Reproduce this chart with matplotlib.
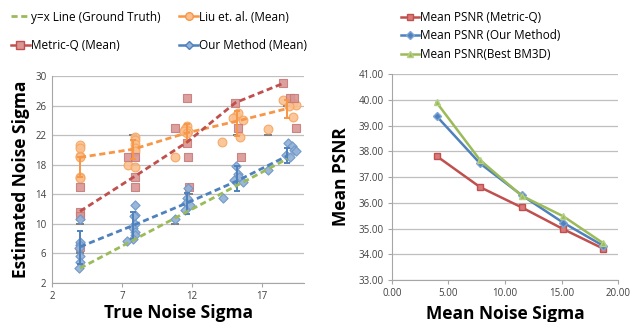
import matplotlib
matplotlib.use("Agg")
import matplotlib.pyplot as plt
from matplotlib.lines import Line2D

plt.rcParams.update({"font.family": ["Open Sans", "DejaVu Sans"], "font.size": 7})

# ---- left panel data: per-image estimates and group means ----
true_sigma = [4.0, 7.8, 11.6, 15.2, 18.8]

liu_x = [4.0, 4.0, 4.0, 4.0, 4.0, 4.0,
         7.9, 7.9, 7.9, 7.9, 7.9, 7.45, 7.9,
         11.6, 11.5, 11.7, 11.4, 11.6, 10.8, 14.1,
         15.1, 15.3, 15.6, 14.9, 15.4, 17.45,
         18.5, 19.2, 19.4, 19.2, 18.9]
liu_y = [20.7, 20.2, 19.2, 19.0, 16.4, 16.2,
         21.8, 21.3, 20.8, 20.3, 19.9, 17.9, 17.7,
         23.2, 22.8, 22.6, 22.5, 22.3, 19.0, 21.1,
         24.6, 25.0, 24.0, 24.3, 21.7, 22.8,
         26.7, 26.4, 26.1, 24.4, 26.0]

mq_x = [4.0, 4.0, 4.0, 4.0,
        7.4, 7.9, 7.9, 7.9,
        11.6, 10.8, 11.6, 11.7, 11.8,
        15.05, 15.3, 15.5,
        18.5, 19.0, 19.3, 19.4]
mq_y = [15.0, 11.6, 11.0, 6.9,
        19.0, 19.0, 16.3, 15.0,
        27.0, 23.0, 20.9, 19.0, 15.0,
        26.3, 23.0, 19.0,
        29.0, 27.0, 27.0, 22.9]

our_x = [4.0, 4.0, 4.0, 3.95, 4.0, 4.0, 3.9,
         7.9, 7.9, 7.85, 7.95, 7.8, 7.9, 7.95, 7.75, 7.35,
         11.7, 11.65, 11.55, 11.85, 11.5, 10.8, 14.2,
         15.1, 15.3, 15.35, 15.0, 15.6,
         18.85, 19.1, 19.3, 18.7, 19.0, 19.4, 17.45]
our_y = [10.6, 7.6, 7.1, 6.7, 5.65, 4.9, 4.0,
         12.6, 11.2, 11.0, 10.0, 9.4, 8.9, 8.5, 8.0, 7.7,
         14.8, 13.5, 12.8, 12.6, 11.9, 10.6, 13.5,
         17.8, 16.7, 16.4, 15.9, 15.7,
         20.9, 20.5, 20.0, 19.3, 19.1, 19.8, 17.3]

liu_mean = [19.0, 20.1, 22.3, 23.9, 25.6]
liu_err_lo = [2.6, 1.3, 1.2, 2.0, 1.3]
liu_err_hi = [0.0, 1.3, 1.2, 1.3, 1.2]
mq_mean_x = [4.0, 7.8, 11.6, 15.1, 18.5]
mq_mean = [11.7, 16.3, 21.0, 26.4, 29.0]
our_mean = [6.9, 9.8, 12.8, 15.8, 19.2]
our_err_lo = [2.3, 1.8, 1.4, 1.3, 1.0]
our_err_hi = [2.1, 1.8, 1.4, 2.0, 1.0]

tick_x = [7.8, 11.6, 15.2, 17.45, 18.8, 7.9, 11.8, 10.8, 4.0, 4.0]
tick_y = [22, 22, 22, 22, 26, 18, 14, 10, 10, 6]

# ---- right panel data ----
psnr_sigma = [3.95, 7.8, 11.5, 15.15, 18.7]
psnr_mq = [37.82, 36.61, 35.82, 34.98, 34.22]
psnr_ours = [39.37, 37.53, 36.29, 35.23, 34.33]
psnr_bm3d = [39.90, 37.66, 36.27, 35.48, 34.43]

RED, BLUE, GREEN, ORANGE = "#C0504D", "#4F81BD", "#9BBB59", "#F79646"
GRID = "#BFBFBF"
dash = (0, (2.2, 1.3))

fig = plt.figure(figsize=(6.32, 3.22), dpi=100)

# ================= left panel =================
ax = fig.add_axes([0.0823, 0.121, 0.399, 0.643])
ax.set_xlim(2, 20); ax.set_ylim(2, 30)
ax.set_xticks([2, 7, 12, 17]); ax.set_yticks(range(2, 31, 4))
ax.grid(axis="y", color=GRID, lw=0.9)
ax.set_axisbelow(True)

ax.scatter(tick_x, tick_y, marker="_", s=40, color="#7F7F7F", lw=1.4, zorder=2)
ax.scatter(liu_x, liu_y, marker="o", s=40, facecolor="#FAC090", edgecolor="#F6A55E",
           lw=0.8, alpha=0.9, zorder=3)
ax.scatter(mq_x, mq_y, marker="s", s=40, facecolor="#D99694", edgecolor="#C97C7A",
           lw=0.8, alpha=0.9, zorder=3)
ax.scatter(our_x, our_y, marker="D", s=22, facecolor="#95B3D7", edgecolor="#6F97C9",
           lw=0.8, alpha=0.95, zorder=4)

ax.errorbar(true_sigma, liu_mean, yerr=[liu_err_lo, liu_err_hi], fmt="none", ecolor=ORANGE,
            elinewidth=1.4, capsize=2.5, capthick=1.4, zorder=4)
ax.errorbar(true_sigma, our_mean, yerr=[our_err_lo, our_err_hi], fmt="none", ecolor=BLUE,
            elinewidth=1.4, capsize=2.5, capthick=1.4, zorder=5)

ax.plot(true_sigma, true_sigma, color=GREEN, lw=2.0, ls=dash, zorder=6)
ax.plot(true_sigma, liu_mean, color=ORANGE, lw=2.0, ls=dash, zorder=6)
ax.plot(mq_mean_x, mq_mean, color=RED, lw=2.0, ls=dash, zorder=6)
ax.plot(true_sigma, our_mean, color=BLUE, lw=2.0, ls=dash, zorder=6)

for side in ("top", "right"):
    ax.spines[side].set_visible(False)
for side in ("left", "bottom"):
    ax.spines[side].set_color("#A6A6A6")
ax.tick_params(axis="y", length=0, pad=4, colors="#404040")
ax.tick_params(axis="x", length=3, color="#A6A6A6", colors="#404040", pad=3)
ax.set_xlabel("True Noise Sigma", fontsize=12.5, fontweight="bold", labelpad=1)
ax.set_ylabel("Estimated Noise Sigma", fontsize=12.5, fontweight="bold", labelpad=4)

handles = [
    Line2D([], [], color=GREEN, lw=2.0, ls=(0, (2.2, 1.3))),
    Line2D([], [], color=RED, lw=1.8, marker="s", ms=5.5, mfc="#D99694", mec=RED),
    Line2D([], [], color=ORANGE, lw=1.8, marker="o", ms=5.5, mfc="#FAC090", mec=ORANGE),
    Line2D([], [], color=BLUE, lw=1.8, marker="D", ms=4, mfc="#95B3D7", mec=BLUE),
]
labels = ["y=x Line (Ground Truth)", "Metric-Q (Mean)", "Liu et. al. (Mean)", "Our Method (Mean)"]
fig.legend(handles, labels, ncol=2, loc="upper left", bbox_to_anchor=(0.0, 1.0),
           frameon=False, fontsize=8.5, handlelength=1.6, handletextpad=0.1,
           columnspacing=1.6, labelspacing=1.3)

# ================= right panel =================
ax2 = fig.add_axes([0.620, 0.130, 0.358, 0.640])
ax2.set_xlim(0, 20); ax2.set_ylim(33, 41)
ax2.set_xticks([0, 5, 10, 15, 20]); ax2.set_yticks(range(33, 42))
ax2.xaxis.set_major_formatter(lambda v, p: f"{v:.2f}")
ax2.yaxis.set_major_formatter(lambda v, p: f"{v:.2f}")
ax2.grid(axis="y", color=GRID, lw=0.9)
ax2.set_axisbelow(True)

ax2.plot(psnr_sigma, psnr_mq, color=RED, lw=1.8, marker="s", ms=5, mfc="#D9797A",
         mec="#C0504D", label="Mean PSNR (Metric-Q)")
ax2.plot(psnr_sigma, psnr_ours, color=BLUE, lw=1.8, marker="D", ms=4, mfc="#4F81BD",
         mec="#7FA6D6", label="Mean PSNR (Our Method)")
ax2.plot(psnr_sigma, psnr_bm3d, color=GREEN, lw=1.8, marker="^", ms=5, mfc=GREEN,
         mec="#B5CF85", label="Mean PSNR(Best BM3D)")

for side in ("top", "right"):
    ax2.spines[side].set_visible(False)
for side in ("left", "bottom"):
    ax2.spines[side].set_color("#A6A6A6")
ax2.tick_params(axis="y", length=3, color="#A6A6A6", colors="#404040", pad=3)
ax2.tick_params(axis="x", length=3, color="#A6A6A6", colors="#404040", pad=3)
ax2.set_xlabel("Mean Noise Sigma", fontsize=12.5, fontweight="bold", labelpad=4)
ax2.set_ylabel("Mean PSNR", fontsize=12.5, fontweight="bold", labelpad=6)
ax2.legend(loc="upper left", bbox_to_anchor=(0.62, 0.995), bbox_transform=fig.transFigure,
           frameon=False, fontsize=8.5, handlelength=1.5, handletextpad=0.1,
           labelspacing=0.45, borderaxespad=0.4)

fig.savefig("out.png", dpi=100)
